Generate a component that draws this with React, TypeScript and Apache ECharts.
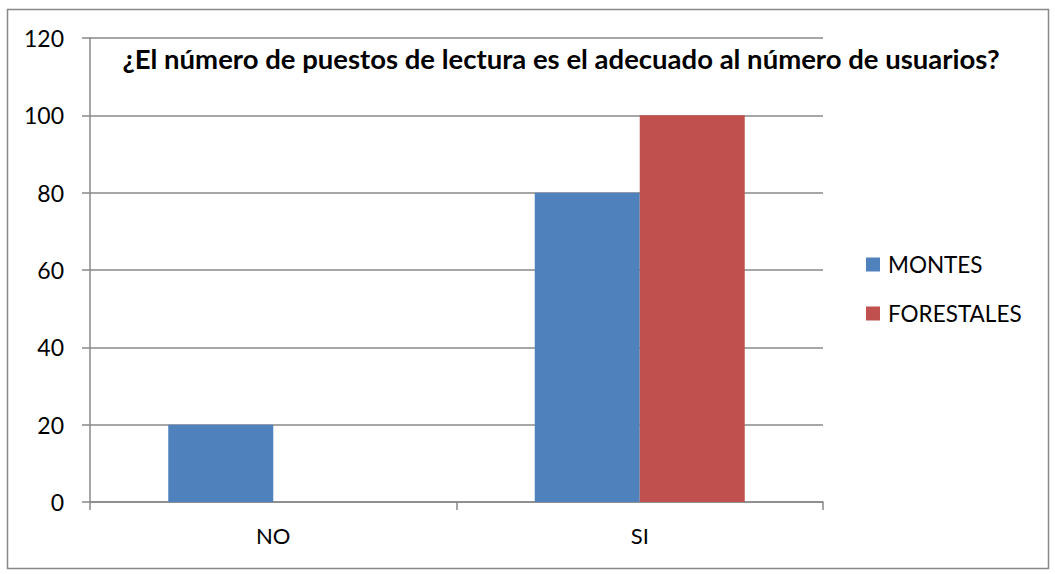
import React, { useEffect, useRef } from "react";
import * as echarts from "echarts";

const categories = ["NO", "SI"];
const montes = [20, 80];
const forestales = [0, 100];
const seriesNames = ["MONTES", "FORESTALES"];
const titleText = "¿El número de puestos de lectura es el adecuado al número de usuarios?";

export default function App() {
  const ref = useRef<HTMLDivElement>(null);
  useEffect(() => {
    document.body.style.margin = "0";
    const chart = echarts.init(ref.current!, null, { renderer: "svg" });
    const font = "Lato, 'Noto Sans', sans-serif";
    chart.setOption({
      animation: false,
      backgroundColor: "#ffffff",
      textStyle: { fontFamily: font },
      title: {
        text: titleText,
        left: 556,
        top: 39,
        textAlign: "center",
        textStyle: { fontSize: 27.5, fontWeight: "bold", color: "#000", fontFamily: font },
      },
      grid: { left: 90, right: 232, top: 38, bottom: 72 },
      legend: {
        orient: "vertical",
        left: 861,
        top: 248,
        itemWidth: 14,
        itemHeight: 14,
        itemGap: 26,
        icon: "rect",
        textStyle: { fontSize: 22.5, color: "#000", fontFamily: font, padding: [0, 0, 0, 3] },
        data: seriesNames,
      },
      graphic: [
        {
          type: "rect",
          shape: { x: 7.5, y: 9.5, width: 1041, height: 559 },
          style: { fill: "none", stroke: "#888888", lineWidth: 1.5 },
          silent: true,
        },
      ],
      xAxis: {
        type: "category",
        data: categories,
        axisLine: { lineStyle: { color: "#888888", width: 1.5 } },
        axisTick: { show: true, length: 8, lineStyle: { color: "#888888", width: 1.5 } },
        axisLabel: { fontSize: 22, color: "#000", margin: 22, fontFamily: font },
      },
      yAxis: {
        type: "value",
        min: 0,
        max: 120,
        interval: 20,
        axisLine: { show: true, lineStyle: { color: "#888888", width: 1.5 } },
        axisTick: { show: true, length: 8, lineStyle: { color: "#888888", width: 1.5 } },
        splitLine: { show: true, lineStyle: { color: "#888888", width: 1.5 } },
        axisLabel: { fontSize: 23, color: "#000", margin: 26, fontFamily: font },
      },
      series: [
        {
          name: seriesNames[0],
          type: "bar",
          data: montes,
          barGap: "0%",
          barCategoryGap: "42.7%",
          itemStyle: { color: "#4F81BD" },
        },
        {
          name: seriesNames[1],
          type: "bar",
          data: forestales,
          barGap: "0%",
          barCategoryGap: "42.7%",
          itemStyle: { color: "#C0504D" },
        },
      ],
    });
    return () => chart.dispose();
  }, []);
  return <div ref={ref} style={{ width: 1055, height: 574 }} />;
}
